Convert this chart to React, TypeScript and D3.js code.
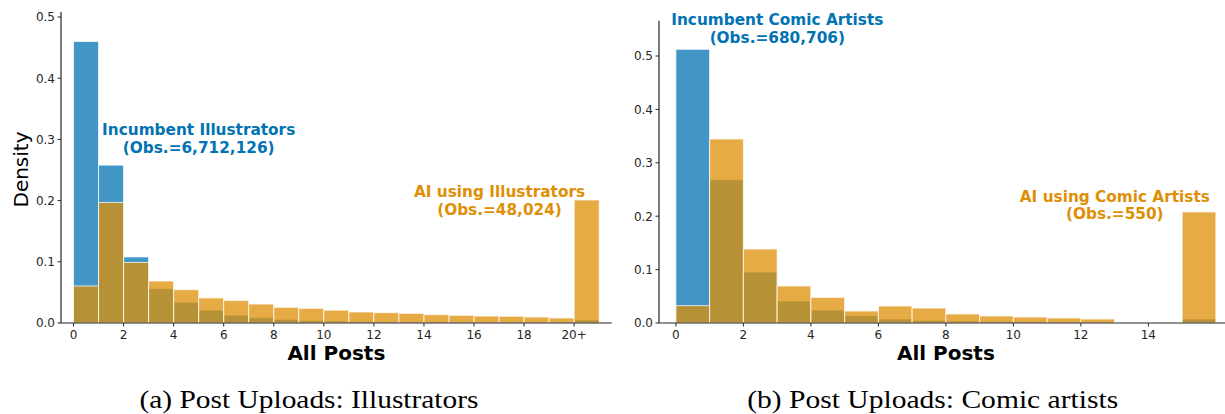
import React from "react";
import * as d3 from "d3";

// ---------- data ----------
const illBins = d3.range(0, 21); // 0..19 and the 20+ overflow bin
const illIncumbent = [0.46, 0.258, 0.108, 0.056, 0.034, 0.021, 0.013, 0.0087, 0.006, 0.004, 0.0033, 0.0028, 0.0024, 0.002, 0.0018, 0.0015, 0.0013, 0.0012, 0.001, 0.0009, 0.005];
const illAI = [0.0605, 0.197, 0.099, 0.0686, 0.0544, 0.041, 0.037, 0.031, 0.0256, 0.024, 0.021, 0.018, 0.0169, 0.0158, 0.0136, 0.0125, 0.0114, 0.011, 0.0098, 0.0082, 0.201];
const illTicks = [0, 2, 4, 6, 8, 10, 12, 14, 16, 18, 20];
const illTickLabels = ["0", "2", "4", "6", "8", "10", "12", "14", "16", "18", "20+"];

const comBins = d3.range(0, 16);
const comIncumbent = [0.5125, 0.268, 0.0955, 0.041, 0.0243, 0.0137, 0.0075, 0.005, 0.0037, 0.003, 0.0022, 0.0018, 0.0015, 0, 0, 0.0075];
const comAI = [0.0325, 0.3446, 0.1386, 0.0693, 0.048, 0.0225, 0.0318, 0.028, 0.0169, 0.0131, 0.0112, 0.0094, 0.0075, 0, 0, 0.208];
const comTicks = [0, 2, 4, 6, 8, 10, 12, 14];
const comTickLabels = ["0", "2", "4", "6", "8", "10", "12", "14"];

const yTicks = [0, 0.1, 0.2, 0.3, 0.4, 0.5];

const BLUE = "#0173b2";
const ORANGE = "#de8f05";
const INK = "#262626";
const SANS = "'DejaVu Sans', sans-serif";

type Note = { lines: string[]; x: number; y: number; color: string };

function Panel(props: {
  left: number; right: number; top: number; bottom: number;
  xDomain: [number, number]; yMax: number;
  bins: number[]; inc: number[]; ai: number[];
  ticks: number[]; tickLabels: string[];
  notes: Note[]; yLabel?: string; xLabel: string;
  caption: string; captionX: number; captionW: number;
}) {
  const { left, right, top, bottom } = props;
  const x = d3.scaleLinear().domain(props.xDomain).range([left, right]);
  const y = d3.scaleLinear().domain([0, props.yMax]).range([bottom, top]);
  const bar = (vals: number[], color: string) =>
    props.bins.map((b, i) =>
      vals[i] > 0 ? (
        <rect key={color + i} x={x(b)} width={x(b + 1) - x(b)} y={y(vals[i])} height={y(0) - y(vals[i])}
          fill={color} fillOpacity={0.75} stroke="#ffffff" strokeOpacity={0.75} strokeWidth={1} />
      ) : null
    );
  return (
    <g>
      {bar(props.inc, BLUE)}
      {bar(props.ai, ORANGE)}
      <line x1={left} x2={left} y1={top} y2={bottom} stroke={INK} strokeWidth={1.2} />
      <line x1={left} x2={right} y1={bottom} y2={bottom} stroke={INK} strokeWidth={1.2} />
      {yTicks.map((t) => (
        <g key={"y" + t}>
          <line x1={left - 3.5} x2={left} y1={y(t)} y2={y(t)} stroke={INK} strokeWidth={1} />
          <text x={left - 6} y={y(t)} dy="0.36em" textAnchor="end" fontSize={12} fill={INK} fontFamily={SANS}>
            {d3.format(".1f")(t)}
          </text>
        </g>
      ))}
      {props.ticks.map((t, i) => (
        <g key={"x" + t}>
          <line x1={x(t)} x2={x(t)} y1={bottom} y2={bottom + 3.5} stroke={INK} strokeWidth={1} />
          <text x={x(t)} y={bottom + 16} textAnchor="middle" fontSize={12} fill={INK} fontFamily={SANS}>
            {props.tickLabels[i]}
          </text>
        </g>
      ))}
      {props.notes.map((n, k) => (
        <text key={"n" + k} x={n.x} y={n.y} textAnchor="middle" fontSize={15.3} fontWeight="bold" fill={n.color} fontFamily={SANS}>
          {n.lines.map((l, j) => (
            <tspan key={j} x={n.x} dy={j === 0 ? 0 : 17.5}>{l}</tspan>
          ))}
        </text>
      ))}
      {props.yLabel && (
        <text transform={`translate(${left - 33},${(top + bottom) / 2 + 2}) rotate(-90)`} textAnchor="middle"
          fontSize={20} fill="#000" fontFamily={SANS}>{props.yLabel}</text>
      )}
      <text x={(left + right) / 2} y={359.5} textAnchor="middle" fontSize={20} fontWeight="bold" fill="#000" fontFamily={SANS}>
        {props.xLabel}
      </text>
      <text x={props.captionX} y={407.5} textAnchor="middle" fontSize={25} fill="#000"
        fontFamily="'Liberation Serif', serif" textLength={props.captionW} lengthAdjust="spacingAndGlyphs">
        {props.caption}
      </text>
    </g>
  );
}

export default function App() {
  return (
    <svg width={1225} height={414} style={{ position: "absolute", left: 0, top: 0, background: "#fff" }}>
      <Panel left={61} right={611.7} top={12} bottom={323}
        xDomain={[-0.5, 21.5]} yMax={(323 - 12) / 612}
        bins={illBins} inc={illIncumbent} ai={illAI}
        ticks={illTicks} tickLabels={illTickLabels}
        notes={[
          { lines: ["Incumbent Illustrators", "(Obs.=6,712,126)"], x: 198.7, y: 135, color: BLUE },
          { lines: ["AI using Illustrators", "(Obs.=48,024)"], x: 499.5, y: 197.3, color: ORANGE },
        ]}
        yLabel="Density" xLabel="All Posts"
        caption="(a) Post Uploads: Illustrators" captionX={309} captionW={339} />
      <Panel left={659} right={659 + 17 * 33.75} top={20.7} bottom={323}
        xDomain={[-0.5, 16.5]} yMax={(323 - 20.7) / 534}
        bins={comBins} inc={comIncumbent} ai={comAI}
        ticks={comTicks} tickLabels={comTickLabels}
        notes={[
          { lines: ["Incumbent Comic Artists", "(Obs.=680,706)"], x: 777.3, y: 25, color: BLUE },
          { lines: ["AI using Comic Artists", "(Obs.=550)"], x: 1114.8, y: 201.7, color: ORANGE },
        ]}
        xLabel="All Posts"
        caption="(b) Post Uploads: Comic artists" captionX={932.7} captionW={371} />
    </svg>
  );
}
